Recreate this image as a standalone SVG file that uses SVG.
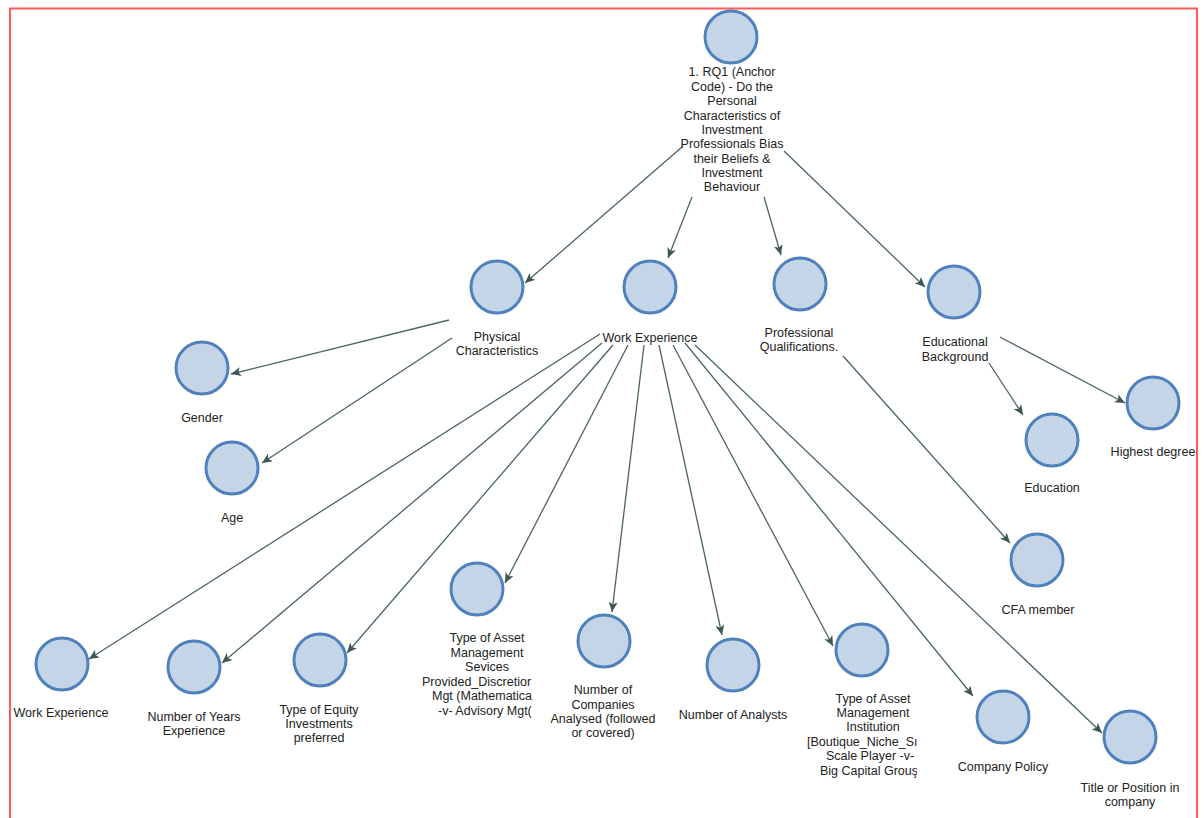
<svg xmlns="http://www.w3.org/2000/svg" width="1204" height="818" viewBox="0 0 1204 818">
<defs>
<style>
.n{fill:#c5d5e8;stroke:#4f81bd;stroke-width:3}
.t{font-family:"Liberation Sans",Arial,sans-serif;font-size:12.5px;fill:#222;text-anchor:middle}
.ts{font-family:"Liberation Sans",Arial,sans-serif;font-size:12.5px;fill:#222;text-anchor:start}
.e{stroke:#4a6464;stroke-width:1.3;fill:none;marker-end:url(#ah)}
</style>
<marker id="ah" markerUnits="userSpaceOnUse" markerWidth="11" markerHeight="9" refX="10" refY="4.5" orient="auto">
<path d="M0,0 L10,4.5 L0,9 L2.5,4.5 z" fill="#3d5757"/>
</marker>
<clipPath id="c1"><rect x="400" y="620" width="133" height="110"/></clipPath>
<clipPath id="c2"><rect x="780" y="685" width="137" height="100"/></clipPath>
</defs>
<rect width="1204" height="818" fill="#fff"/>
<path d="M10,818 V8.5 H1197 V818" fill="none" stroke="#ff5a5a" stroke-width="2"/>
<g id="connectors">
<line class="e" x1="682" y1="147" x2="525" y2="283"/>
<line class="e" x1="692" y1="197" x2="668" y2="258"/>
<line class="e" x1="764" y1="197" x2="781" y2="255"/>
<line class="e" x1="784" y1="151" x2="925" y2="287"/>
<line class="e" x1="449" y1="320" x2="231" y2="374"/>
<line class="e" x1="452" y1="338" x2="262" y2="463"/>
<line class="e" x1="600" y1="334" x2="89" y2="659"/>
<line class="e" x1="602" y1="343" x2="222" y2="663"/>
<line class="e" x1="613" y1="345" x2="347" y2="653"/>
<line class="e" x1="628" y1="345" x2="505" y2="583"/>
<line class="e" x1="644" y1="345" x2="612" y2="612"/>
<line class="e" x1="659" y1="345" x2="722" y2="635"/>
<line class="e" x1="673" y1="345" x2="833" y2="646"/>
<line class="e" x1="685" y1="343" x2="973" y2="696"/>
<line class="e" x1="695" y1="345" x2="1102" y2="733"/>
<line class="e" x1="843" y1="356" x2="1010" y2="543"/>
<line class="e" x1="989" y1="363" x2="1023" y2="415"/>
<line class="e" x1="1000" y1="337" x2="1125" y2="403"/>
</g>
<g id="root">
<circle class="n" cx="731" cy="37" r="26"/>
<text class="t" x="732" y="76">1. RQ1 (Anchor</text>
<text class="t" x="732" y="90.5">Code) - Do the</text>
<text class="t" x="732" y="105">Personal</text>
<text class="t" x="732" y="119.5">Characteristics of</text>
<text class="t" x="732" y="134">Investment</text>
<text class="t" x="732" y="148">Professionals Bias</text>
<text class="t" x="732" y="162.5">their Beliefs &amp;</text>
<text class="t" x="732" y="177">Investment</text>
<text class="t" x="732" y="191">Behaviour</text>
</g>
<g id="physical">
<circle class="n" cx="497" cy="287" r="26"/>
<text class="t" x="497" y="341">Physical</text>
<text class="t" x="497" y="355">Characteristics</text>
</g>
<g id="work-experience">
<circle class="n" cx="650" cy="287" r="26"/>
<text class="t" x="650" y="342">Work Experience</text>
</g>
<g id="professional">
<circle class="n" cx="800" cy="284" r="26"/>
<text class="t" x="799" y="337">Professional</text>
<text class="t" x="799" y="351">Qualifications.</text>
</g>
<g id="educational">
<circle class="n" cx="954" cy="292" r="26"/>
<text class="t" x="955" y="346">Educational</text>
<text class="t" x="955" y="361">Background</text>
</g>
<g id="gender">
<circle class="n" cx="202" cy="368" r="26"/>
<text class="t" x="202" y="422">Gender</text>
</g>
<g id="age">
<circle class="n" cx="232" cy="468" r="26"/>
<text class="t" x="232" y="522">Age</text>
</g>
<g id="education">
<circle class="n" cx="1052" cy="440" r="26"/>
<text class="t" x="1052" y="492">Education</text>
</g>
<g id="highest-degree">
<circle class="n" cx="1153" cy="403" r="26"/>
<text class="t" x="1153" y="456">Highest degree</text>
</g>
<g id="cfa">
<circle class="n" cx="1037" cy="560" r="26"/>
<text class="t" x="1038" y="614">CFA member</text>
</g>
<g id="work-experience-2">
<circle class="n" cx="62" cy="664" r="26"/>
<text class="t" x="61" y="717">Work Experience</text>
</g>
<g id="years">
<circle class="n" cx="194" cy="667" r="26"/>
<text class="t" x="194" y="721">Number of Years</text>
<text class="t" x="194" y="735">Experience</text>
</g>
<g id="equity">
<circle class="n" cx="320" cy="660" r="26"/>
<text class="t" x="319" y="714">Type of Equity</text>
<text class="t" x="319" y="728">Investments</text>
<text class="t" x="319" y="742">preferred</text>
</g>
<g id="services">
<circle class="n" cx="477" cy="589" r="26"/>
<text class="t" x="487" y="642">Type of Asset</text>
<text class="t" x="487" y="656.5">Management</text>
<text class="t" x="487" y="671">Sevices</text>
<g clip-path="url(#c1)">
<text class="ts" x="422" y="685.5">Provided_Discretior</text>
<text class="ts" x="432" y="700">Mgt (Mathematica</text>
<text class="ts" x="438" y="714.5">-v- Advisory Mgt(</text>
</g>
</g>
<g id="companies">
<circle class="n" cx="604" cy="641" r="26"/>
<text class="t" x="603" y="694">Number of</text>
<text class="t" x="603" y="708.5">Companies</text>
<text class="t" x="603" y="723">Analysed (followed</text>
<text class="t" x="603" y="737">or covered)</text>
</g>
<g id="analysts">
<circle class="n" cx="733" cy="665" r="26"/>
<text class="t" x="733" y="719">Number of Analysts</text>
</g>
<g id="institution">
<circle class="n" cx="862" cy="650" r="26"/>
<text class="t" x="873" y="703">Type of Asset</text>
<text class="t" x="873" y="717">Management</text>
<text class="t" x="873" y="731">Institution</text>
<g clip-path="url(#c2)">
<text class="ts" x="807" y="746">[Boutique_Niche_Sı</text>
<text class="t" x="870" y="760">Scale Player -v-</text>
<text class="ts" x="820" y="775">Big Capital Grouş</text>
</g>
</g>
<g id="policy">
<circle class="n" cx="1003" cy="717" r="26"/>
<text class="t" x="1003" y="771">Company Policy</text>
</g>
<g id="title">
<circle class="n" cx="1130" cy="737" r="26"/>
<text class="t" x="1130" y="792">Title or Position in</text>
<text class="t" x="1130" y="806">company</text>
</g>
</svg>
